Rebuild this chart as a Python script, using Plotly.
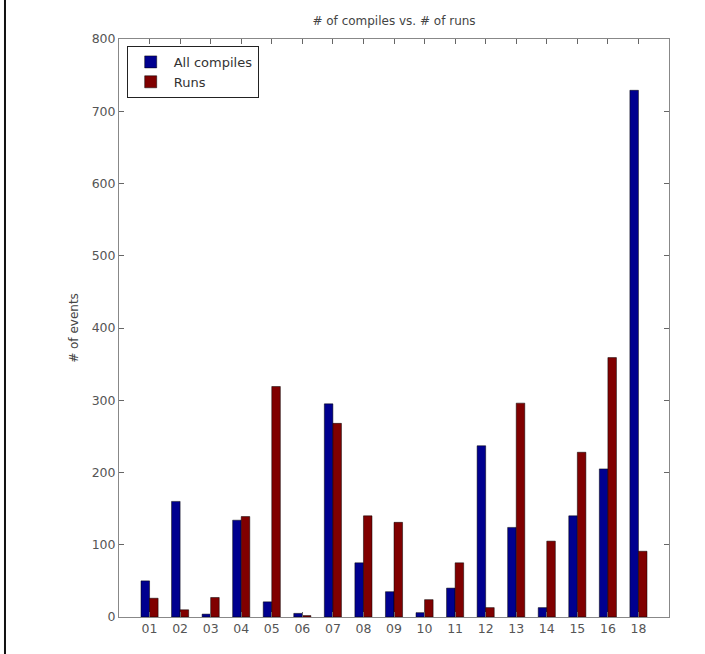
import plotly.graph_objects as go

categories = ["01", "02", "03", "04", "05", "06", "07", "08", "09",
              "10", "11", "12", "13", "14", "15", "16", "18"]
all_compiles = [50, 160, 4, 134, 21, 5, 295, 75, 35, 6, 40, 237, 124, 13, 140, 205, 729]
runs = [26, 10, 27, 139, 319, 2, 268, 140, 131, 24, 75, 13, 296, 105, 228, 359, 91]
y_ticks = [0, 100, 200, 300, 400, 500, 600, 700, 800]

xpos = list(range(1, len(categories) + 1))

FONT = "DejaVu Sans, Liberation Sans, Arial, sans-serif"

fig = go.Figure()
fig.add_trace(go.Bar(x=xpos, y=all_compiles, name="All compiles",
                     marker=dict(color="#00008F", line=dict(color="#000000", width=0.5))))
fig.add_trace(go.Bar(x=xpos, y=runs, name="Runs",
                     marker=dict(color="#800000", line=dict(color="#000000", width=0.5))))

axis_font = dict(family=FONT, size=12.5, color="#555555")

fig.update_layout(
    width=705, height=654,
    margin=dict(l=119, r=36, t=39, b=37),
    paper_bgcolor="white", plot_bgcolor="white",
    barmode="group", bargap=0.44, bargroupgap=0,
    showlegend=True,
    legend=dict(x=0.014, y=0.988, xanchor="left", yanchor="top",
                bgcolor="white", bordercolor="#222222", borderwidth=1,
                font=dict(family=FONT, size=13, color="#333333"),
                itemwidth=36, tracegroupgap=0),
    title=dict(text="# of compiles vs. # of runs", x=0.5, xref="paper",
               y=0.968, yref="container", yanchor="middle",
               font=dict(family=FONT, size=12, color="#444444")),
    xaxis=dict(range=[0, 18], tickmode="array", tickvals=xpos, ticktext=categories,
               ticks="inside", ticklen=5, tickcolor="#666666", showline=True, linecolor="#888888",
               linewidth=1, mirror="allticks", showgrid=False, zeroline=False, tickfont=axis_font),
    yaxis=dict(range=[0, 800], tickmode="array", tickvals=y_ticks,
               ticks="inside", ticklen=5, tickcolor="#666666", showline=True, linecolor="#888888",
               linewidth=1, mirror="allticks", showgrid=False, zeroline=False, tickfont=axis_font,
               title=dict(text="# of events", standoff=10,
                          font=dict(family=FONT, size=12, color="#444444"))),
    shapes=[dict(type="line", xref="paper", yref="paper", x0=-0.2073, x1=-0.2073, y0=-0.07, y1=1.07,
                 line=dict(color="#111111", width=2))],
)

fig.write_html("out.html", config={"displayModeBar": False},
               post_script="document.body.style.margin='0';")
